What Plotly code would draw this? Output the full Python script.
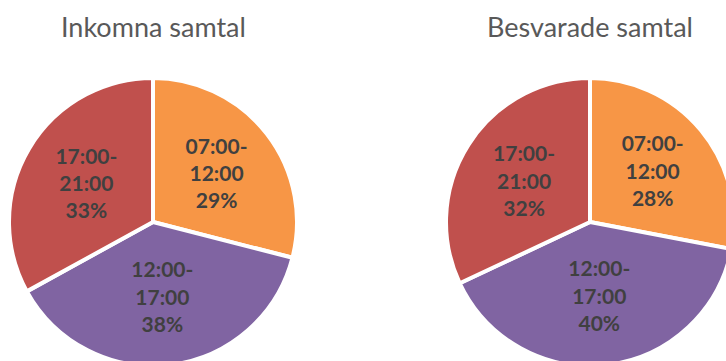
import plotly.graph_objects as go

categories = ["07:00-12:00", "12:00-17:00", "17:00-21:00"]
inkomna = [29, 38, 33]
besvarade = [28, 40, 32]
titles = ["Inkomna samtal", "Besvarade samtal"]
colors = ["#F79646", "#8064A2", "#C0504D"]

W, H = 760, 382
label_text = [c.replace("-", "-<br>") for c in categories]

def dom(cx, cy, r):
    return dict(x=[(cx - r) / W, (cx + r) / W], y=[1 - (cy + r) / H, 1 - (cy - r) / H])

pies = [(153, 222, 144), (590, 222, 144)]
fig = go.Figure()
for vals, (cx, cy, r) in zip([inkomna, besvarade], pies):
    fig.add_trace(go.Pie(
        labels=categories, values=vals, text=label_text,
        sort=False, direction="clockwise", rotation=0,
        marker=dict(colors=colors, line=dict(color="white", width=4)),
        textinfo="text+percent", texttemplate="%{text}<br>%{percent:.0%}",
        textposition="inside", insidetextorientation="horizontal",
        insidetextfont=dict(family="Lato", size=21, color="#404040", weight="bold"),
        domain=dom(cx, cy, r), showlegend=False, hoverinfo="label+percent",
    ))

for t, (cx, cy, r) in zip(titles, pies):
    fig.add_annotation(text=t, x=cx / W, y=1 - 26 / H, xref="paper", yref="paper",
                       xanchor="center", yanchor="middle", showarrow=False,
                       font=dict(family="Lato", size=27, color="#595959"))

fig.update_layout(width=W, height=H, margin=dict(l=0, r=0, t=0, b=0),
                  paper_bgcolor="white", plot_bgcolor="white")
fig.write_html("out.html", config={"displayModeBar": False},
               post_script="document.body.style.overflow='hidden';document.documentElement.style.overflow='hidden';")
